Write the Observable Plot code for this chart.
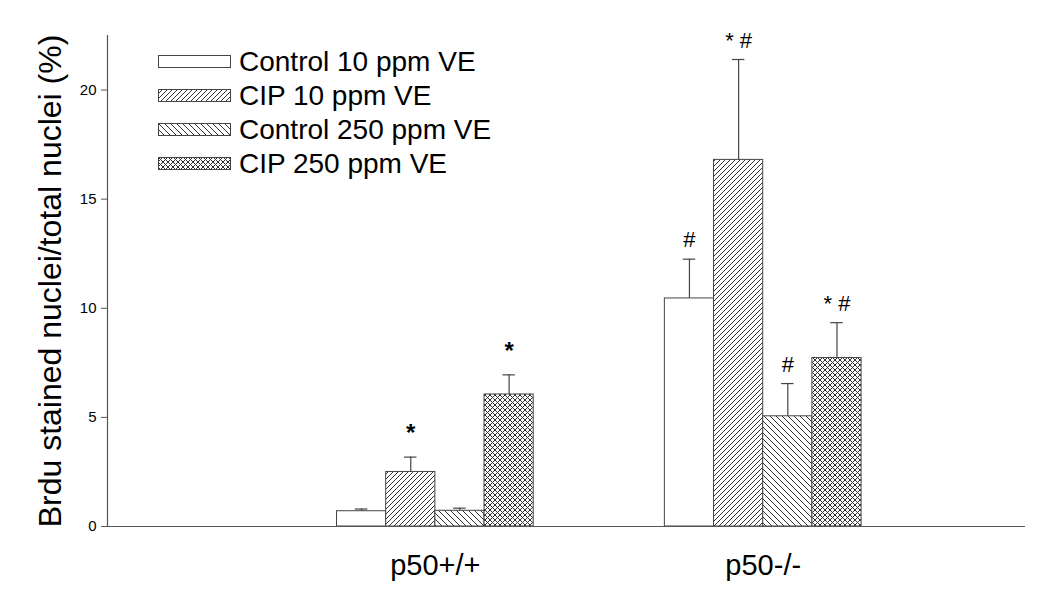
<!DOCTYPE html>
<html>
<head>
<meta charset="utf-8">
<script src="https://cdn.jsdelivr.net/npm/d3@7"></script>
<script src="https://cdn.jsdelivr.net/npm/@observablehq/plot@0.6"></script>
<style>
  body { margin: 0; background: #fff; }
  #wrap { position: relative; width: 1050px; height: 600px; font-family: "Liberation Sans", Arial, sans-serif; }
  #legend { position: absolute; left: 158px; top: 45px; }
  .row { display: flex; align-items: center; height: 34px; }
  .row svg { margin-right: 8px; }
  .row span { font-size: 28px; color: #000; }
</style>
</head>
<body>
<div id="wrap"></div>
<script>
const groups = ["p50+/+", "p50-/-"];
const series = ["Control 10 ppm VE", "CIP 10 ppm VE", "Control 250 ppm VE", "CIP 250 ppm VE"];
const control10 = [0.70, 10.45];
const cip10 = [2.50, 16.80];
const control250 = [0.72, 5.05];
const cip250 = [6.05, 7.72];
const errControl10 = [0.10, 1.80];
const errCip10 = [0.68, 4.60];
const errControl250 = [0.12, 1.50];
const errCip250 = [0.90, 1.62];
const sigControl10 = ["", "#"];
const sigCip10 = ["*", "* #"];
const sigControl250 = ["", "#"];
const sigCip250 = ["*", "* #"];
const yTicks = [0, 5, 10, 15, 20];

const patterns = ["url(#pWhite)", "url(#pFwd)", "url(#pBack)", "url(#pCross)"];
const means = [control10, cip10, control250, cip250];
const errs = [errControl10, errCip10, errControl250, errCip250];
const sigs = [sigControl10, sigCip10, sigControl250, sigCip250];

const barW = 0.15;
const rows = [];
series.forEach((s, i) => {
  groups.forEach((g, j) => {
    const c = j + 1;
    const x1 = c - 2 * barW + i * barW;
    rows.push({series: s, si: i, group: g, x1, x2: x1 + barW, xc: x1 + barW / 2,
      value: means[i][j], top: means[i][j] + errs[i][j], sig: sigs[i][j]});
  });
});

const stroke = "#444";
const marks = [];
series.forEach((s, i) => {
  marks.push(Plot.rectY(rows.filter(d => d.si === i), {x1: "x1", x2: "x2", y1: 0, y2: "value", fill: patterns[i], stroke, strokeWidth: 1}));
});
marks.push(
  Plot.ruleX(rows, {x: "xc", y1: "value", y2: "top", stroke, strokeWidth: 1.2}),
  Plot.ruleY(rows, {y: "top", x1: d => d.xc - 0.019, x2: d => d.xc + 0.019, stroke, strokeWidth: 1.2}),
  Plot.text(rows.filter(d => d.sig === "*"), {x: "xc", y: "top", text: "sig", fontSize: 24, dy: -24, fill: "#000", fontWeight: "bold"}),
  Plot.text(rows.filter(d => d.sig !== "*" && d.sig !== ""), {x: "xc", y: "top", text: "sig", fontSize: 22, dy: -19, fill: "#000"}),
  Plot.ruleY([0], {stroke: "#555", strokeWidth: 1.2}),
  Plot.ruleX([0], {stroke: "#555", strokeWidth: 1.2}),
  Plot.axisY({ticks: yTicks, tickSize: 6, tickPadding: 5, fontSize: 15, label: null, stroke: "#555"}),
  Plot.axisX({ticks: [1, 2], tickFormat: d => groups[d - 1], tickSize: 0, tickPadding: 28, fontSize: 29, label: null}),
  Plot.text(["Brdu stained nuclei/total nuclei (%)"], {frameAnchor: "left", textAnchor: "middle", rotate: -90, dx: -57, fontSize: 32, fill: "#000"})
);

const chart = Plot.plot({
  width: 1050,
  height: 600,
  marginLeft: 107,
  marginRight: 25,
  marginTop: 35,
  marginBottom: 74,
  style: {fontFamily: "Liberation Sans, Arial, sans-serif", color: "#000", background: "#fff"},
  x: {type: "linear", domain: [0, 2.8]},
  y: {domain: [0, 22.5]},
  marks
});

const defs = `
<defs>
  <pattern id="pWhite" patternUnits="userSpaceOnUse" width="4" height="4"><rect width="4" height="4" fill="#fff"/></pattern>
  <pattern id="pFwd" patternUnits="userSpaceOnUse" width="5" height="5">
    <rect width="5" height="5" fill="#fff"/>
    <path d="M-1,1 l2,-2 M0,5 l5,-5 M4,6 l2,-2" stroke="#333" stroke-width="1"/>
  </pattern>
  <pattern id="pBack" patternUnits="userSpaceOnUse" width="6" height="6">
    <rect width="6" height="6" fill="#fff"/>
    <path d="M-1,5 l2,2 M0,0 l6,6 M5,-1 l2,2" stroke="#333" stroke-width="1"/>
  </pattern>
  <pattern id="pCross" patternUnits="userSpaceOnUse" width="5" height="5">
    <rect width="5" height="5" fill="#fff"/>
    <path d="M-1,1 l2,-2 M0,5 l5,-5 M4,6 l2,-2 M-1,4 l2,2 M0,0 l5,5 M4,-1 l2,2" stroke="#333" stroke-width="1"/>
  </pattern>
</defs>`;
chart.insertAdjacentHTML("afterbegin", defs);

const wrap = document.getElementById("wrap");
wrap.appendChild(chart);

const legend = document.createElement("div");
legend.id = "legend";
series.forEach((s, i) => {
  const row = document.createElement("div");
  row.className = "row";
  row.innerHTML = `<svg width="73" height="14"><rect x="0.5" y="0.5" width="72" height="12" fill="${patterns[i]}" stroke="${stroke}" stroke-width="1"/></svg><span>${s}</span>`;
  legend.appendChild(row);
});
wrap.appendChild(legend);
</script>
</body>
</html>
